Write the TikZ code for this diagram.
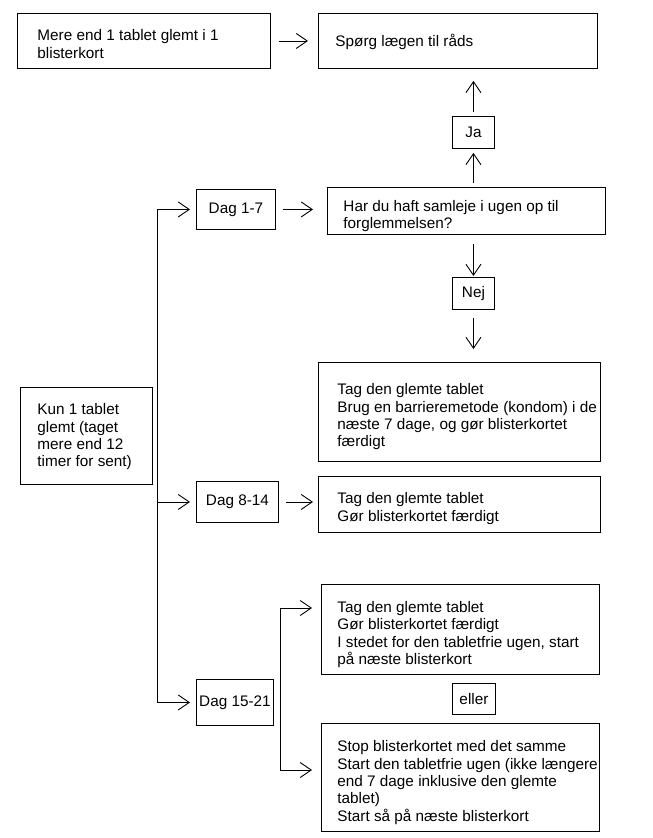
\documentclass[tikz,border=0pt]{standalone}
\usepackage{fontspec}
\setmainfont{Liberation Sans}
\usetikzlibrary{arrows.meta}

\begin{document}
\begin{tikzpicture}[x=1pt,y=-1pt,line width=0.9pt,
	>={Straight Barb[length=11pt,width=15pt]},
	font=\fontsize{15.3}{17.3}\selectfont,
	kasse/.style={draw,inner sep=0pt,anchor=north west},
	tekst/.style={anchor=west,align=left,inner sep=0pt}]
\useasboundingbox (0,0) rectangle (653,838);
\def\kasse#1#2#3#4#5#6#7#8{
	\node[kasse,minimum width=#4pt,minimum height=#5pt] (#1) at (#2,#3) {};
	\node[tekst] at ([xshift=#6pt,yshift=-#7pt]#1.west) {#8};
}
\def\lille#1#2#3#4#5#6{
	\node[kasse,minimum width=#4pt,minimum height=#5pt] (#1) at (#2,#3) {#6};
}
\def\pfeil#1#2#3#4{
	\draw[->,shorten <= #3pt,shorten >= #4pt] #1 -- #2;
}
% Kasser
\kasse{mehr}{17}{13}{253}{55}{20}{3}{Mere end 1 tablet glemt i 1\\blisterkort}
\kasse{raad}{318}{13}{279}{55}{17}{1}{Spørg lægen til råds}
\lille{ja}{452}{116}{42}{32}{Ja}
\kasse{frage}{327}{187}{278}{47}{16}{5}{Har du haft samleje i ugen op til\\forglemmelsen?}
\lille{nej}{452}{277}{42}{32}{Nej}
\kasse{tag1}{318}{362}{282}{99}{19}{5}{Tag den glemte tablet\\Brug en barrieremetode (kondom) i de\\næste 7 dage, og gør blisterkortet\\færdigt}
\kasse{kun}{20}{387}{132}{97}{17}{1}{Kun 1 tablet\\glemt (taget\\mere end 12\\timer for sent)}
\kasse{tag2}{318}{476}{282}{56}{19}{4}{Tag den glemte tablet\\Gør blisterkortet færdigt}
\kasse{tag3}{321}{584}{278}{90}{16}{5}{Tag den glemte tablet\\Gør blisterkortet færdigt\\I stedet for den tabletfrie ugen, start\\på næste blisterkort}
\lille{eller}{452}{683}{43}{31}{eller}
\kasse{tag4}{321}{723}{278}{108}{16}{5}{Stop blisterkortet med det samme\\Start den tabletfrie ugen (ikke længere\\end 7 dage inklusive den glemte\\tablet)\\Start så på næste blisterkort}
\lille{dag1}{196}{189}{79}{40}{Dag 1-7}
\lille{dag2}{196}{481}{82}{41}{Dag 8-14}
\lille{dag3}{196}{679}{77}{46}{Dag 15-21}
% Linjer
\coordinate (v) at (157,0);
\coordinate (w1) at (280,608);
\coordinate (w2) at (280,770);
\draw (dag1.west -| v) -- (dag3.west -| v);
\draw (w1) -- (w2);
% Pile
\pfeil{(mehr.east)}{(raad.west)}{8}{10}
\pfeil{(ja.south |- frage.north)}{(ja.south)}{4}{4}
\pfeil{(ja.north)}{(ja.north |- raad.south)}{4}{12}
\pfeil{(dag1.east)}{(dag1.east -| frage.west)}{7}{14}
\pfeil{(ja.south |- frage.south)}{(nej.north)}{9}{1}
\pfeil{(nej.south)}{(nej.south |- tag1.north)}{8}{13}
\pfeil{(dag1.west -| v)}{(dag1.west)}{0}{6}
\pfeil{(dag2.west -| v)}{(dag2.west)}{0}{6}
\pfeil{(dag3.west -| v)}{(dag3.west)}{0}{6}
\pfeil{(dag2.east)}{(dag2.east -| tag2.west)}{7}{5}
\pfeil{(w1)}{(w1 -| tag3.west)}{0}{9}
\pfeil{(w2)}{(w2 -| tag4.west)}{0}{9}
\end{tikzpicture}
\end{document}
